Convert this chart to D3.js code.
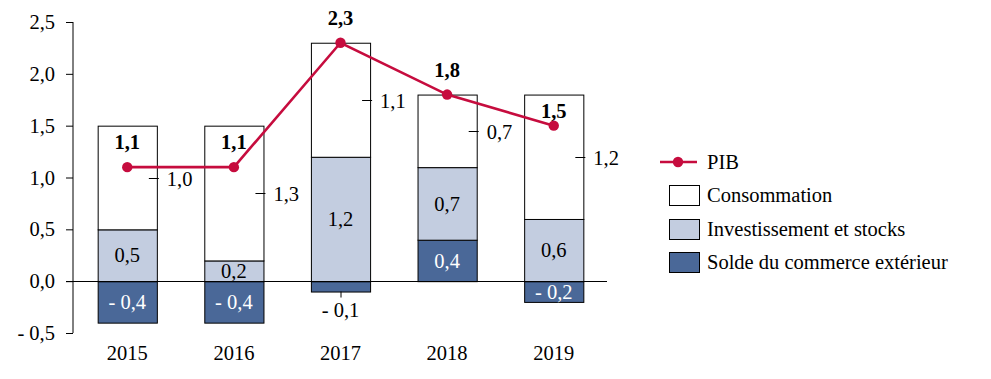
<!DOCTYPE html>
<html><head><meta charset="utf-8">
<script src="https://cdn.jsdelivr.net/npm/d3@7"></script>
<style>body{margin:0;background:#fff} text{font-family:"Liberation Serif",serif !important;fill:#000}</style>
</head><body><svg id="c" width="991" height="379"></svg>
<script>
const years = ["2015","2016","2017","2018","2019"];
const consommation = [1.0, 1.3, 1.1, 0.7, 1.2];
const investissement = [0.5, 0.2, 1.2, 0.7, 0.6];
const solde = [-0.4, -0.4, -0.1, 0.4, -0.2];
const pib = [1.1, 1.1, 2.3, 1.8, 1.5];
const yTicks = [-0.5, 0, 0.5, 1, 1.5, 2, 2.5];
const seriesNames = ["PIB", "Consommation", "Investissement et stocks", "Solde du commerce extérieur"];

const colors = {pib:"#c60c3e", cons:"#ffffff", inv:"#c3cde0", solde:"#4a6898"};
const FS = 20.5;
const svg = d3.select("#c");
const x = d3.scaleBand().domain(years).range([74, 607]).paddingInner(0.445).paddingOuter(0.222);
const y = d3.scaleLinear().domain([-0.5, 2.5]).range([333, 22]);
const fmt = v => (v < 0 ? "- " : "") + d3.format(".1f")(Math.abs(v)).replace(".", ",");

// axis
const ax = svg.append("g").attr("transform","translate(73,0)")
  .call(d3.axisLeft(y).tickValues(yTicks).tickSize(7).tickPadding(11).tickFormat(fmt));
ax.attr("font-family", null).attr("font-size", null);
ax.select(".domain").attr("d", `M0,${y(-0.5)}V${y(2.5)}`).attr("stroke","#000");
ax.selectAll(".tick line").attr("stroke","#000");
ax.selectAll(".tick text").style("font-size",FS+"px").attr("fill","#000");

// stack
const rows = years.map((yr,i)=>({year:yr, solde:solde[i], inv:investissement[i], cons:consommation[i]}));
const keys = ["solde","inv","cons"];
const stack = d3.stack().keys(keys).offset(d3.stackOffsetDiverging)(rows);

const gBars = svg.append("g");
stack.forEach(s=>{
  gBars.selectAll(null).data(s).join("rect")
    .attr("x", d=>x(d.data.year)+0.5)
    .attr("width", x.bandwidth())
    .attr("y", d=>y(Math.max(d[0],d[1]))+0.5)
    .attr("height", d=>Math.abs(y(d[0])-y(d[1])))
    .attr("fill", colors[s.key]).attr("stroke","#000").attr("stroke-width",1);
});

// zero line
svg.append("line").attr("x1",66).attr("x2",607).attr("y1",Math.round(y(0))+0.5).attr("y2",Math.round(y(0))+0.5).attr("stroke","#000");

// labels
const gl = svg.append("g").style("font-size",FS+"px");
const sInv = stack[1], sCons = stack[2], sSol = stack[0];
sInv.forEach(d=>{
  gl.append("text").attr("x", x(d.data.year)+x.bandwidth()/2).attr("y", y((d[0]+d[1])/2))
    .attr("text-anchor","middle").attr("dy","0.35em").text(fmt(d.data.inv));
});
sSol.forEach(d=>{
  const cx = x(d.data.year)+x.bandwidth()/2;
  if (Math.abs(d.data.solde) < 0.15) {
    const yb = y(Math.min(d[0],d[1]));
    gl.append("line").attr("x1",cx+0.5).attr("x2",cx+0.5).attr("y1",yb).attr("y2",yb+6).attr("stroke","#000");
    gl.append("text").attr("x",cx).attr("y",yb+18).attr("text-anchor","middle").attr("dy","0.35em").text(fmt(d.data.solde));
  } else {
    gl.append("text").attr("x",cx).attr("y",y((d[0]+d[1])/2)).attr("text-anchor","middle").attr("dy","0.35em")
      .style("fill","#fff").text(fmt(d.data.solde));
  }
});
sCons.forEach(d=>{
  const xr = x(d.data.year)+x.bandwidth();
  const ym = Math.round(y((d[0]+d[1])/2))+0.5;
  gl.append("line").attr("x1",xr-8).attr("x2",xr+2).attr("y1",ym).attr("y2",ym).attr("stroke","#000");
  gl.append("text").attr("x",xr+10).attr("y",ym).attr("dy","0.35em").text(fmt(d.data.cons));
});

// PIB line
const line = d3.line().x((d,i)=>x(years[i])+x.bandwidth()/2).y(d=>y(d));
svg.append("path").datum(pib).attr("d",line).attr("fill","none").attr("stroke",colors.pib).attr("stroke-width",2.6);
svg.selectAll(null).data(pib).join("circle").attr("cx",(d,i)=>x(years[i])+x.bandwidth()/2).attr("cy",d=>y(d)).attr("r",5.2).attr("fill",colors.pib);
pib.forEach((v,i)=>{
  const tot = d3.max(stack, s=>s[i][1]);
  const ly = v < tot - 0.05 ? y(tot)+16 : y(v)-25;
  gl.append("text").attr("x",x(years[i])+x.bandwidth()/2).attr("y",ly).attr("dy","0.35em")
    .attr("text-anchor","middle").style("font-weight","bold").text(fmt(v));
});

// x labels
years.forEach(yr=>{
  gl.append("text").attr("x",x(yr)+x.bandwidth()/2).attr("y",360).attr("text-anchor","middle").text(yr);
});

// legend
const lg = svg.append("g").style("font-size",FS+"px");
lg.append("line").attr("x1",660).attr("x2",697).attr("y1",162).attr("y2",162).attr("stroke",colors.pib).attr("stroke-width",2.6);
lg.append("circle").attr("cx",678).attr("cy",162).attr("r",5.2).attr("fill",colors.pib);
lg.append("text").attr("x",707).attr("y",162).attr("dy","0.35em").text(seriesNames[0]);
const boxes = [colors.cons, colors.inv, colors.solde];
boxes.forEach((c,i)=>{
  const yc = 195 + i*33.5;
  lg.append("rect").attr("x",669.5).attr("y",Math.round(yc-10)+0.5).attr("width",30).attr("height",20).attr("fill",c).attr("stroke","#000");
  lg.append("text").attr("x",707).attr("y",yc).attr("dy","0.35em").text(seriesNames[i+1]);
});
</script></body></html>
